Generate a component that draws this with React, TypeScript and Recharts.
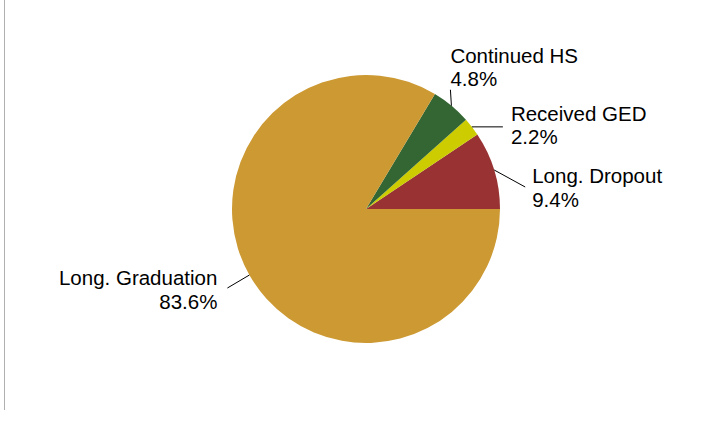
import { PieChart, Pie, Cell } from "recharts";

const categories = ["Long. Dropout", "Received GED", "Continued HS", "Long. Graduation"];
const shares = [9.4, 2.2, 4.8, 83.6];
const colors = ["#993333", "#CCCC00", "#336633", "#CC9933"];

// leader line end (relative to slice edge) and text block position (relative to line end)
const labelLayout = [
  { lx: 31, ly: 17, tx: 7, ty: -12, anchor: "start" },
  { lx: 31, ly: 0, tx: 8, ty: -14, anchor: "start" },
  { lx: -1, ly: -16, tx: 0, ty: -35, anchor: "start" },
  { lx: -22, ly: 13, tx: -10, ty: -11, anchor: "end" },
];

const data = categories.map((name, i) => ({ name, value: shares[i] }));
const RAD = Math.PI / 180;

function renderLabel(props: any) {
  const { cx, cy, midAngle, outerRadius, index } = props;
  const sx = cx + outerRadius * Math.cos(-midAngle * RAD);
  const sy = cy + outerRadius * Math.sin(-midAngle * RAD);
  const l = labelLayout[index];
  const ex = sx + l.lx;
  const ey = sy + l.ly;
  const tx = ex + l.tx;
  const ty = ey + l.ty;
  return (
    <g key={`lbl-${index}`}>
      <line x1={sx} y1={sy} x2={ex} y2={ey} stroke="#000" strokeWidth={1} />
      <text x={tx} y={ty} textAnchor={l.anchor} dominantBaseline="central"
        fontFamily="'Liberation Sans', Arial, sans-serif" fontSize={20.5} fill="#000">
        <tspan x={tx} dy={0}>{categories[index]}</tspan>
        <tspan x={tx} dy={23.5}>{shares[index].toFixed(1)}%</tspan>
      </text>
    </g>
  );
}

export default function App() {
  return (
    <div style={{ position: "absolute", left: 0, top: 0, width: 713, height: 426, background: "#fff" }}>
      <div style={{ position: "absolute", left: 4, top: 0, width: 0, height: 410, borderLeft: "1px solid #b0b0b0" }} />
      <PieChart width={713} height={426} margin={{ top: 0, right: 0, bottom: 0, left: 0 }}>
        <Pie data={data} dataKey="value" nameKey="name" cx={366} cy={209} outerRadius={134}
          startAngle={0} endAngle={360} stroke="none" label={renderLabel} labelLine={false}
          isAnimationActive={false}>
          {data.map((d, i) => <Cell key={d.name} fill={colors[i]} />)}
        </Pie>
      </PieChart>
    </div>
  );
}
